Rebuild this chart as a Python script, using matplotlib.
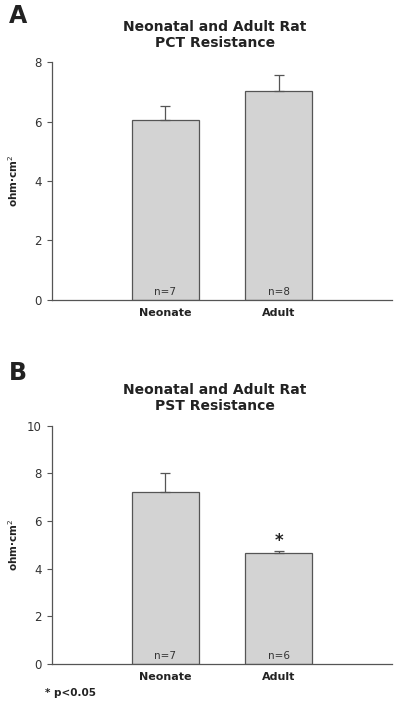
import matplotlib.pyplot as plt
import numpy as np

groups = ["Neonate", "Adult"]

# panel A: PCT
pct_mean = [6.05, 7.03]
pct_err = [0.47, 0.55]
pct_n = ["n=7", "n=8"]

# panel B: PST
pst_mean = [7.2, 4.64]
pst_err = [0.8, 0.11]
pst_n = ["n=7", "n=6"]

bar_color = "#d3d3d3"
edge = "#555555"
txt = "#222222"

fig = plt.figure(figsize=(4, 7.09), dpi=100)
axA = fig.add_axes([0.13, 0.577, 0.85, 0.3355])
axB = fig.add_axes([0.13, 0.0635, 0.85, 0.3361])


def draw(ax, means, errs, ns, ymax, stars=None):
    x = np.arange(1, len(means) + 1)
    ax.bar(x, means, width=0.59, color=bar_color, edgecolor=edge, linewidth=0.9, zorder=2)
    ax.errorbar(x, means, yerr=[np.zeros(len(errs)), errs], fmt="none",
                ecolor=edge, elinewidth=0.9, capsize=3.5, capthick=0.9, zorder=3)
    for xi, n in zip(x, ns):
        ax.text(xi, ymax * 0.012, n, ha="center", va="bottom", fontsize=7.5, color="#333333")
    if stars:
        for xi, s, m, e in zip(x, stars, means, errs):
            if s:
                ax.text(xi, m + e + ymax * 0.005, s, ha="center", va="bottom",
                        fontsize=12, fontweight="bold", color=txt)
    ax.set_xlim(0, 3)
    ax.set_ylim(0, ymax)
    ax.set_yticks(np.arange(0, ymax + 1, 2))
    ax.set_xticks(x)
    ax.set_xticklabels(groups, fontweight="bold", fontsize=8, color=txt)
    ax.tick_params(axis="x", length=0, pad=6)
    ax.tick_params(axis="y", length=3.5, width=0.8, color=edge, labelsize=8.5,
                   labelcolor="#333333", pad=4)
    for s in ["top", "right"]:
        ax.spines[s].set_visible(False)
    for s in ["left", "bottom"]:
        ax.spines[s].set_color(edge)
        ax.spines[s].set_linewidth(0.9)
    ax.set_ylabel("ohm·cm$^2$", fontweight="bold", fontsize=7.5, color=txt)
    ax.yaxis.set_label_coords(-0.095, 0.5)


draw(axA, pct_mean, pct_err, pct_n, 8)
draw(axB, pst_mean, pst_err, pst_n, 10, stars=["", "*"])

fig.text(215 / 400, 1 - 35 / 709, "Neonatal and Adult Rat\nPCT Resistance", ha="center",
         va="center", fontsize=10, fontweight="bold", color=txt, linespacing=1.15)
fig.text(215 / 400, 1 - 398 / 709, "Neonatal and Adult Rat\nPST Resistance", ha="center",
         va="center", fontsize=10, fontweight="bold", color=txt, linespacing=1.15)

fig.text(9 / 400, 1 - 16 / 709, "A", fontsize=17, fontweight="bold", color=txt, va="center")
fig.text(9 / 400, 1 - 373 / 709, "B", fontsize=17, fontweight="bold", color=txt, va="center")
fig.text(45 / 400, 1 - 693 / 709, "* p<0.05", fontsize=7.5, fontweight="bold", color=txt, va="center")

fig.savefig("out.png", dpi=100)
